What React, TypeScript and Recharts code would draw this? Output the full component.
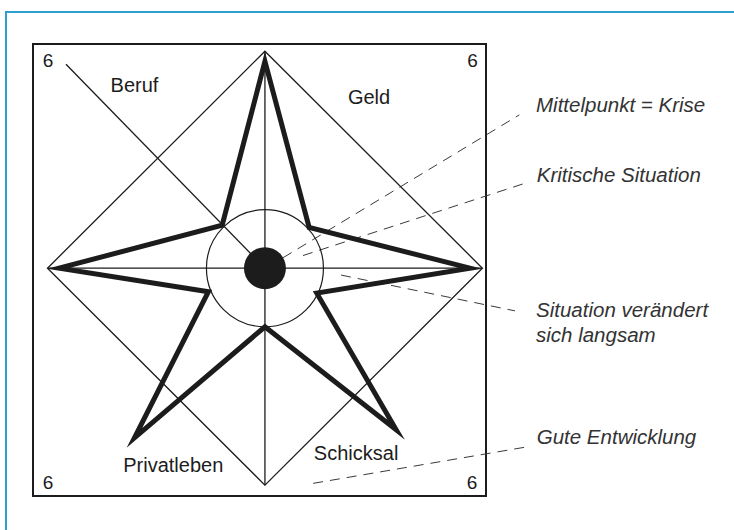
import React from 'react';
import {
  ScatterChart,
  Scatter,
  XAxis,
  YAxis,
  ReferenceLine,
  ReferenceDot,
  ReferenceArea,
} from 'recharts';

// Coordinate system: centre = crisis (0,0), outer axes reach 6
const X_DOMAIN: [number, number] = [-6.4, 6.1];
const Y_DOMAIN: [number, number] = [-6.3, 6.2];

const diamond = [
  { x: 0, y: 6 },
  { x: 6, y: 0 },
  { x: 0, y: -6 },
  { x: -6, y: 0 },
];

const star = [
  { x: 0, y: 5.72 },
  { x: 1.22, y: 1.13 },
  { x: 5.66, y: 0 },
  { x: 1.43, y: -0.69 },
  { x: 3.62, y: -4.47 },
  { x: 0, y: -1.62 },
  { x: -3.6, y: -4.69 },
  { x: -1.56, y: -0.65 },
  { x: -5.68, y: 0 },
  { x: -1.18, y: 1.19 },
];

const axisLines = [
  [{ x: 0, y: 6 }, { x: 0, y: -6 }],
  [{ x: -6, y: 0 }, { x: 6, y: 0 }],
  [{ x: -5.49, y: 5.64 }, { x: 0, y: 0 }],
];

const annotationLines = [
  [{ x: 0.5, y: 0.29 }, { x: 7.02, y: 4.24 }],
  [{ x: 1.05, y: 0.35 }, { x: 7.18, y: 2.35 }],
  [{ x: 2.1, y: -0.19 }, { x: 6.9, y: -1.18 }],
  [{ x: 1.33, y: -5.95 }, { x: 7.18, y: -4.95 }],
];

const cornerLabels = [
  { text: '6', x: -6.13, y: 5.57 },
  { text: '6', x: 5.58, y: 5.57 },
  { text: '6', x: -6.13, y: -6.11 },
  { text: '6', x: 5.57, y: -6.11 },
];

const categoryLabels = [
  { text: 'Beruf', x: -4.26, y: 4.88 },
  { text: 'Geld', x: 2.29, y: 4.54 },
  { text: 'Privatleben', x: -3.91, y: -5.63 },
  { text: 'Schicksal', x: 1.35, y: -5.3 },
];

const annotationLabels = [
  { text: 'Mittelpunkt = Krise', x: 7.48, y: 4.31 },
  { text: 'Kritische Situation', x: 7.5, y: 2.375 },
  { text: 'Situation verändert', x: 7.48, y: -1.34 },
  { text: 'sich langsam', x: 7.48, y: -2.03 },
  { text: 'Gute Entwicklung', x: 7.5, y: -4.87 },
];

const INK = '#1c1c1c';
const FONT = '"Liberation Sans", Arial, Helvetica, sans-serif';

const polygonLine = (stroke: string, width: number) => (props: any) => (
  <polygon
    points={(props.points || []).map((p: any) => `${p.x},${p.y}`).join(' ')}
    fill="none"
    stroke={stroke}
    strokeWidth={width}
    strokeLinejoin="miter"
    strokeMiterlimit={14}
  />
);

const textShape =
  (text: string, size: number, italic: boolean, color: string) => (p: any) => (
    <text
      x={p.cx}
      y={p.cy}
      fontFamily={FONT}
      fontSize={size}
      fontStyle={italic ? 'italic' : 'normal'}
      fill={color}
      textAnchor="start"
    >
      {text}
    </text>
  );

export default function App() {
  return (
    <div style={{ position: 'absolute', left: 0, top: 0, width: 734, height: 530, background: '#fff', overflow: 'hidden' }}>
      <div
        style={{
          position: 'absolute',
          left: 5,
          top: 11,
          width: 760,
          height: 560,
          borderTop: '2px solid #2e9fcf',
          borderLeft: '2px solid #2e9fcf',
        }}
      />
      <div style={{ position: 'absolute', left: 0, top: 0 }}>
        <ScatterChart width={734} height={530} margin={{ top: 44, right: 248, bottom: 34, left: 33 }}>
          <XAxis type="number" dataKey="x" domain={X_DOMAIN} allowDataOverflow hide />
          <YAxis type="number" dataKey="y" domain={Y_DOMAIN} allowDataOverflow hide />
          <ReferenceArea
            x1={X_DOMAIN[0]}
            x2={X_DOMAIN[1]}
            y1={Y_DOMAIN[0]}
            y2={Y_DOMAIN[1]}
            fill="none"
            fillOpacity={0}
            stroke={INK}
            strokeWidth={2}
            ifOverflow="visible"
          />
          {axisLines.map((seg, i) => (
            <ReferenceLine key={`ax${i}`} segment={seg} stroke={INK} strokeWidth={1.3} ifOverflow="visible" />
          ))}
          <Scatter
            data={diamond}
            line={polygonLine(INK, 1.3)}
            shape={() => <g />}
            isAnimationActive={false}
            legendType="none"
          />
          <ReferenceDot x={0} y={0} r={58.5} fill="none" stroke={INK} strokeWidth={1.2} ifOverflow="visible" />
          <Scatter
            data={star}
            line={polygonLine(INK, 5)}
            shape={() => <g />}
            isAnimationActive={false}
            legendType="none"
          />
          <ReferenceDot x={0} y={0} r={21} fill={INK} stroke="none" ifOverflow="visible" />
          {annotationLines.map((seg, i) => (
            <ReferenceLine
              key={`an${i}`}
              segment={seg}
              stroke="#3a3a3a"
              strokeWidth={1}
              strokeDasharray="10 7"
              ifOverflow="visible"
            />
          ))}
          {cornerLabels.map((l, i) => (
            <ReferenceDot key={`c${i}`} x={l.x} y={l.y} r={0} ifOverflow="visible" shape={textShape(l.text, 19, false, INK)} />
          ))}
          {categoryLabels.map((l, i) => (
            <ReferenceDot key={`k${i}`} x={l.x} y={l.y} r={0} ifOverflow="visible" shape={textShape(l.text, 20, false, INK)} />
          ))}
          {annotationLabels.map((l, i) => (
            <ReferenceDot key={`a${i}`} x={l.x} y={l.y} r={0} ifOverflow="visible" shape={textShape(l.text, 20.5, true, '#333')} />
          ))}
        </ScatterChart>
      </div>
    </div>
  );
}
